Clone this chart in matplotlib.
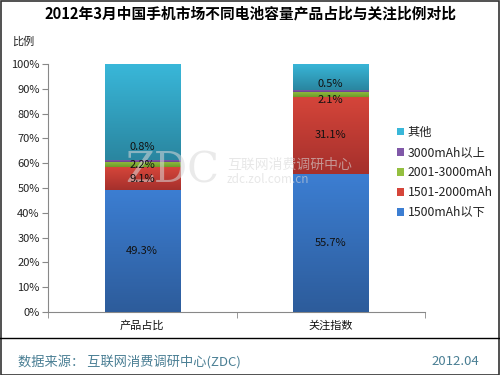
import matplotlib
matplotlib.use("Agg")
import matplotlib.pyplot as plt
import numpy as np
from matplotlib.patches import Patch
from matplotlib.colors import LinearSegmentedColormap
from matplotlib.lines import Line2D

plt.rcParams['font.family'] = ['Noto Sans CJK SC', 'DejaVu Sans']

categories = ['产品占比', '关注指数']
series_names = ['1500mAh以下', '1501-2000mAh', '2001-3000mAh', '3000mAh以上', '其他']
values = {
    '1500mAh以下': [49.3, 55.7],
    '1501-2000mAh': [9.1, 31.1],
    '2001-3000mAh': [2.2, 2.1],
    '3000mAh以上': [0.8, 0.5],
    '其他': [38.6, 10.6],
}
show_label = {'1500mAh以下': True, '1501-2000mAh': True, '2001-3000mAh': True,
              '3000mAh以上': True, '其他': False}
# label nudges (style only, in % units)
label_nudge = {'3000mAh以上': [5.5, 3.0], '2001-3000mAh': [0.0, -2.3]}
yticks = [0, 10, 20, 30, 40, 50, 60, 70, 80, 90, 100]
title = '2012年3月中国手机市场不同电池容量产品占比与关注比例对比'

grad = {
    '1500mAh以下': ('#3c7ed2', '#2d5c9b'),
    '1501-2000mAh': ('#d5453a', '#a5302c'),
    '2001-3000mAh': ('#94bf40', '#6e9a2a'),
    '3000mAh以上': ('#8058a8', '#6a4090'),
    '其他': ('#39b7d9', '#2a86a0'),
}
legend_col = {k: v[0] for k, v in grad.items()}

fig = plt.figure(figsize=(5, 3.75), dpi=100)
ax = fig.add_axes([0.096, 0.168, 0.754, 0.661])

x = np.arange(len(categories))
bottom = np.zeros(len(categories))
width = 0.40
for name in series_names:
    vals = np.array(values[name])
    bars = ax.bar(x, vals, width, bottom=bottom, color=grad[name][0], linewidth=0, zorder=2)
    cmap = LinearSegmentedColormap.from_list(name, [grad[name][1], grad[name][0]])
    for b in bars:
        x0, y0 = b.get_x(), b.get_y()
        w, h = b.get_width(), b.get_height()
        g = np.linspace(0, 1, 64).reshape(-1, 1)
        im = ax.imshow(g, cmap=cmap, aspect='auto', origin='lower',
                       extent=[x0, x0 + w, y0, y0 + h], zorder=3)
        im.set_clip_path(b)
    if show_label[name]:
        nud = label_nudge.get(name, [0, 0])
        for i, v in enumerate(vals):
            ax.text(x[i], bottom[i] + v / 2 + nud[i], f'{v:.1f}%', ha='center', va='center',
                    fontsize=8, color='#111111', zorder=6)
    bottom += vals

ax.set_xlim(-0.5, 1.5)
ax.set_ylim(0, 100)
ax.set_yticks(yticks)
ax.set_yticklabels([f'{t}%' for t in yticks], fontsize=8, color='#222222')
ax.set_xticks(x)
ax.set_xticklabels(categories, fontsize=8, color='#111111')
ax.set_xticks([-0.5, 0.5, 1.5], minor=True)
ax.tick_params(axis='x', which='major', length=0, pad=6)
ax.tick_params(axis='x', which='minor', length=4, color='#888888', direction='out')
ax.tick_params(axis='y', length=4, color='#888888', direction='out', pad=2)
for s in ['top', 'right']:
    ax.spines[s].set_visible(False)
for s in ['left', 'bottom']:
    ax.spines[s].set_color('#888888')
    ax.spines[s].set_linewidth(0.8)

handles = [Patch(facecolor=legend_col[n], edgecolor='none') for n in series_names[::-1]]
fig.legend(handles, series_names[::-1], loc='upper left', bbox_to_anchor=(0.782, 0.68),
           frameon=False, fontsize=8.8, handlelength=0.55, handleheight=0.55,
           handletextpad=0.3, labelspacing=0.58, borderpad=0, labelcolor='#222222')

fig.text(0.5, 0.963, title, ha='center', va='center', fontsize=10.6, fontweight='bold', color='#000000')
fig.text(0.046, 0.888, '比例', ha='center', va='center', fontsize=8, color='#222222')

# watermark (drawn inside the axes, below the value labels)
ax.text(0.345, 0.545, 'ZDC', ha='center', va='center', fontsize=30, family='DejaVu Serif',
        color='#d9d9d9', alpha=0.55, zorder=4, transform=fig.transFigure)
ax.text(0.58, 0.56, '互联网消费调研中心', ha='center', va='center', fontsize=10,
        color='#d8d8d8', alpha=0.6, zorder=4, transform=fig.transFigure)
ax.text(0.535, 0.522, 'zdc.zol.com.cn', ha='center', va='center', fontsize=8.5,
        color='#d8d8d8', alpha=0.6, zorder=4, transform=fig.transFigure)

# footer
fig.add_artist(Line2D([0, 1], [0.099, 0.099], transform=fig.transFigure, color='#000000', linewidth=1))
fig.text(0.036, 0.035, '数据来源： 互联网消费调研中心(ZDC)', ha='left', va='center', fontsize=9.5, color='#4a7f94')
fig.text(0.958, 0.035, '2012.04', ha='right', va='center', fontsize=9.5, color='#4a7f94')

# border
fig.add_artist(plt.Rectangle((0.001, 0.001), 0.997, 0.997, transform=fig.transFigure,
                             fill=False, edgecolor='#333333', linewidth=1.2))

fig.savefig('out.png', dpi=100)
